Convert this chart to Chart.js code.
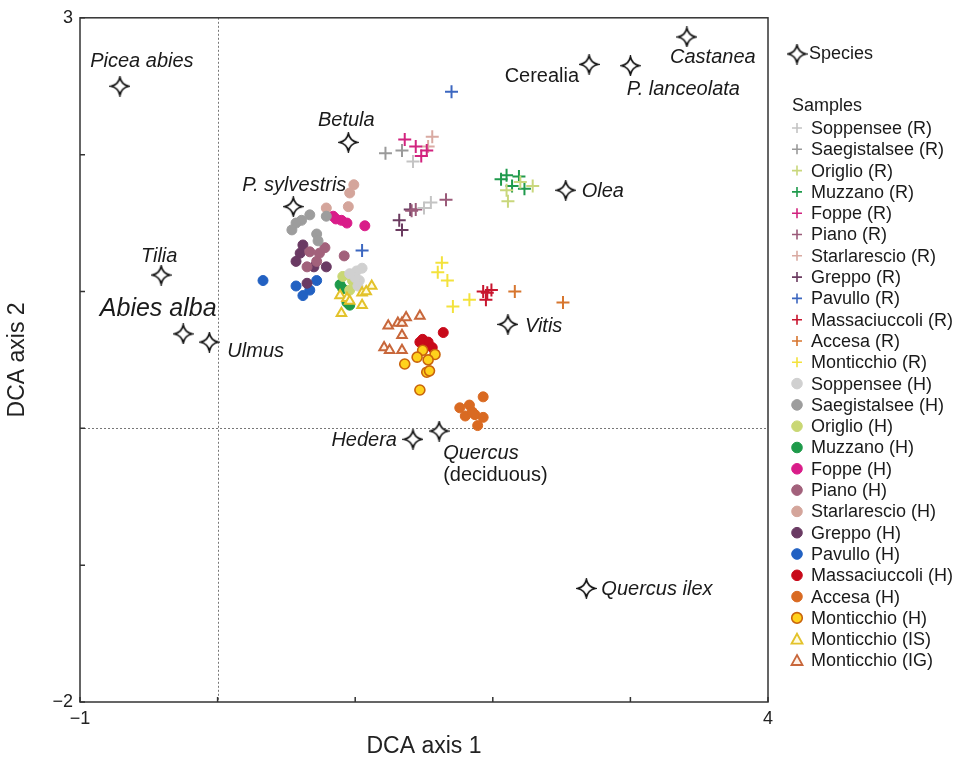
<!DOCTYPE html>
<html lang="en">
<head>
<meta charset="UTF-8">
<title>DCA ordination of pollen samples</title>
<script src="https://cdn.jsdelivr.net/npm/chart.js"></script>
<style>
  body { margin: 0; background: #fff; font-family: 'Liberation Sans', Arial, sans-serif; }
  #wrap { width: 958px; height: 760px; }
</style>
</head>
<body>
<div id="wrap"><canvas id="dca" width="958" height="760"></canvas></div>
<script>
// species scores (DCA axis 1 / axis 2)
const speciesNames = ['Picea abies', 'Castanea', 'Cerealia', 'P. lanceolata', 'Betula', 'Olea', 'P. sylvestris',
                      'Tilia', 'Abies alba', 'Ulmus', 'Vitis', 'Hedera', 'Quercus\n(deciduous)', 'Quercus ilex'];
const speciesX = [-0.71, 3.41, 2.70, 3.00, 0.95, 2.53, 0.55, -0.41, -0.25, -0.06, 2.11, 1.42, 1.61, 2.68];
const speciesY = [2.50, 2.86, 2.66, 2.65, 2.09, 1.74, 1.62, 1.12, 0.69, 0.63, 0.76, -0.08, -0.02, -1.17];

// sample groups, same order as the legend
const groupNames = [
  'Soppensee (R)', 'Saegistalsee (R)', 'Origlio (R)', 'Muzzano (R)', 'Foppe (R)', 'Piano (R)',
  'Starlarescio (R)', 'Greppo (R)', 'Pavullo (R)', 'Massaciuccoli (R)', 'Accesa (R)', 'Monticchio (R)',
  'Soppensee (H)', 'Saegistalsee (H)', 'Origlio (H)', 'Muzzano (H)', 'Foppe (H)', 'Piano (H)',
  'Starlarescio (H)', 'Greppo (H)', 'Pavullo (H)', 'Massaciuccoli (H)', 'Accesa (H)', 'Monticchio (H)',
  'Monticchio (IS)', 'Monticchio (IG)'
];
const groupX = [
  [1.50, 1.55, 1.42],
  [1.22, 1.34],
  [2.11, 2.29, 2.10, 2.20],
  [2.06, 2.19, 2.14, 2.23, 2.10],
  [1.36, 1.44, 1.48, 1.52],
  [1.66, 1.41, 1.44],
  [1.56, 1.53],
  [1.32, 1.34, 1.40],
  [1.70, 1.05],
  [1.93, 1.96, 1.95, 1.99],
  [2.16, 2.51],
  [1.63, 1.60, 1.67, 1.83, 1.71],
  [1.01, 1.05, 1.03, 1.00, 1.02, 0.96],
  [0.61, 0.67, 0.72, 0.73, 0.54, 0.57, 0.79],
  [0.91, 0.96, 0.98],
  [0.89, 0.91, 0.96, 0.94],
  [0.84, 0.90, 0.94, 1.07, 0.86],
  [0.67, 0.74, 0.72, 0.92, 0.65, 0.78],
  [0.99, 0.96, 0.95, 0.79],
  [0.60, 0.57, 0.62, 0.65, 0.79, 0.70],
  [0.33, 0.57, 0.67, 0.72, 0.62],
  [1.49, 1.53, 1.64, 1.56, 1.47],
  [1.93, 1.76, 1.83, 1.80, 1.87, 1.93, 1.89, 1.85],
  [1.49, 1.58, 1.45, 1.53, 1.36, 1.52, 1.54, 1.47],
  [0.89, 0.94, 1.05, 1.12, 1.08, 1.05, 0.90, 0.96],
  [1.24, 1.31, 1.34, 1.37, 1.47, 1.34, 1.21, 1.25, 1.34]
];
const groupY = [
  [1.61, 1.65, 1.95],
  [2.01, 2.03],
  [1.66, 1.77, 1.74, 1.80],
  [1.82, 1.84, 1.77, 1.75, 1.85],
  [2.11, 2.06, 1.99, 2.03],
  [1.67, 1.59, 1.60],
  [2.13, 2.06],
  [1.52, 1.45, 1.60],
  [2.46, 1.30],
  [1.00, 0.99, 0.94, 1.01],
  [1.00, 0.92],
  [1.21, 1.14, 1.08, 0.94, 0.89],
  [1.15, 1.17, 1.08, 1.10, 1.04, 1.13],
  [1.52, 1.56, 1.42, 1.37, 1.45, 1.50, 1.55],
  [1.11, 1.01, 1.08],
  [1.05, 1.02, 0.90, 0.92],
  [1.55, 1.52, 1.50, 1.48, 1.53],
  [1.29, 1.28, 1.22, 1.26, 1.18, 1.32],
  [1.78, 1.72, 1.62, 1.61],
  [1.28, 1.22, 1.34, 1.06, 1.18, 1.18],
  [1.08, 1.04, 1.01, 1.08, 0.97],
  [0.65, 0.63, 0.70, 0.59, 0.63],
  [0.23, 0.15, 0.17, 0.09, 0.10, 0.08, 0.02, 0.12],
  [0.57, 0.54, 0.52, 0.50, 0.47, 0.41, 0.42, 0.28],
  [0.97, 0.95, 0.99, 1.04, 1.00, 0.90, 0.84, 0.93],
  [0.75, 0.77, 0.77, 0.81, 0.82, 0.68, 0.59, 0.57, 0.57]
];
const xTickLabels = [-1, 4];
const yTickLabels = [-2, 3];

// marker look for each group (shape, stroke, fill)
const groupStyle = [
  ['cross', '#c4c4c4'], ['cross', '#9a9a9a'], ['cross', '#c9d77c'], ['cross', '#1f9a4c'],
  ['cross', '#d2237f'], ['cross', '#9b5b7a'], ['cross', '#d9aaa2'], ['cross', '#6b3b60'],
  ['cross', '#3c67c0'], ['cross', '#c8152e'], ['cross', '#d7762f'], ['cross', '#f3e23c'],
  ['circle', '#d0d0d0'], ['circle', '#9d9d9d'], ['circle', '#c9d774'], ['circle', '#1e9a4a'],
  ['circle', '#d91c89'], ['circle', '#a2617b'], ['circle', '#d4a59b'], ['circle', '#6a3a63'],
  ['circle', '#2261c2'], ['circle', '#c80a1a'], ['circle', '#d96a22'], ['circle', '#c9640c', '#ffd21c'],
  ['triangle', '#e3c22a', '#fffbe0'], ['triangle', '#c8673b', '#fff3ea']
];

// where each species name sits relative to its star
const speciesLabelPos = [
  [22, -25, 'center'], [26, 20, 'center'], [-10, 12, 'right', 'upright'], [53, 24, 'center'],
  [-2, -22, 'center'], [16, 1, 'left'], [1, -21, 'center'], [-2, -19, 'center'],
  [-25, -25, 'center', 'big'], [18, 9, 'left'], [17, 2, 'left'], [-16, 1, 'right'],
  [4, 22, 'left'], [15, 1, 'left']
];

function makeStar(s) {
  const c = document.createElement('canvas');
  c.width = c.height = s;
  const g = c.getContext('2d');
  const m = s / 2, r = s / 2 - 1.5, k = r * 0.16;
  g.beginPath();
  g.moveTo(m, m - r);
  g.quadraticCurveTo(m + k, m - k, m + r, m);
  g.quadraticCurveTo(m + k, m + k, m, m + r);
  g.quadraticCurveTo(m - k, m + k, m - r, m);
  g.quadraticCurveTo(m - k, m - k, m, m - r);
  g.closePath();
  g.fillStyle = '#fff';
  g.fill();
  g.lineWidth = 1.6;
  g.strokeStyle = '#111';
  g.stroke();
  return c;
}
const star = makeStar(21);

const minus = v => (v < 0 ? '\u2212' + Math.abs(v) : String(v));
const FONT = "'Liberation Sans', Arial, sans-serif";

const datasets = [{
  label: 'Species',
  data: speciesX.map((x, i) => ({ x, y: speciesY[i] })),
  pointStyle: star,
  order: 0
}];
groupNames.forEach((name, i) => {
  const [shape, stroke, fill] = groupStyle[i];
  datasets.push({
    label: name,
    data: groupX[i].map((x, j) => ({ x, y: groupY[i][j] })),
    pointStyle: shape,
    pointRadius: shape === 'cross' ? 6.5 : (shape === 'triangle' ? 5.5 : 5),
    borderColor: stroke,
    backgroundColor: fill || stroke,
    borderWidth: shape === 'circle' ? (fill ? 1.6 : 1) : 2,
    order: shape === 'triangle' ? 1 : (fill ? 2 : (shape === 'circle' ? 3 : 4))
  });
});

const decor = {
  id: 'decor',
  beforeDatasetsDraw(chart) {
    const { ctx, chartArea: a, scales: { x, y } } = chart;
    ctx.save();
    ctx.strokeStyle = '#777';
    ctx.lineWidth = 1;
    ctx.setLineDash([2, 2]);
    const x0 = Math.round(x.getPixelForValue(0)) + 0.5, y0 = Math.round(y.getPixelForValue(0)) + 0.5;
    ctx.beginPath();
    ctx.moveTo(x0, a.top); ctx.lineTo(x0, a.bottom);
    ctx.moveTo(a.left, y0); ctx.lineTo(a.right, y0);
    ctx.stroke();
    ctx.setLineDash([]);
    ctx.strokeStyle = '#333';
    ctx.lineWidth = 1.5;
    ctx.strokeRect(a.left, a.top, a.right - a.left, a.bottom - a.top);
    ctx.beginPath();
    x.ticks.forEach(t => {
      const px = x.getPixelForValue(t.value);
      ctx.moveTo(px, a.bottom); ctx.lineTo(px, a.bottom - 5);
    });
    y.ticks.forEach(t => {
      const py = y.getPixelForValue(t.value);
      ctx.moveTo(a.left, py); ctx.lineTo(a.left + 5, py);
    });
    ctx.stroke();
    ctx.restore();
  },
  afterDatasetsDraw(chart) {
    const { ctx, chartArea: a, scales: { x, y } } = chart;
    ctx.save();
    ctx.fillStyle = '#1a1a1a';
    ctx.textBaseline = 'middle';
    // species names
    speciesNames.forEach((name, i) => {
      const [dx, dy, align, kind] = speciesLabelPos[i];
      const px = x.getPixelForValue(speciesX[i]) + dx;
      const py = y.getPixelForValue(speciesY[i]) + dy;
      ctx.textAlign = align;
      name.split('\n').forEach((line, k) => {
        const upright = kind === 'upright' || line.startsWith('(');
        const size = kind === 'big' ? 25 : 20;
        ctx.font = (upright ? '' : 'italic ') + size + 'px ' + FONT;
        ctx.fillText(line, px, py + k * 22);
      });
    });
    // legend on the right
    const lx = a.right + 29;
    ctx.textAlign = 'left';
    ctx.font = '18px ' + FONT;
    ctx.drawImage(star, lx - star.width / 2, 54 - star.height / 2);
    ctx.fillText('Species', lx + 12, 54);
    ctx.fillText('Samples', lx - 5, 106);
    groupNames.forEach((name, i) => {
      const [shape, stroke, fill] = groupStyle[i];
      const cy = 128 + i * 21.3;
      ctx.strokeStyle = stroke;
      ctx.fillStyle = fill || stroke;
      ctx.beginPath();
      if (shape === 'cross') {
        ctx.lineWidth = 1.6;
        ctx.moveTo(lx - 5, cy); ctx.lineTo(lx + 5, cy);
        ctx.moveTo(lx, cy - 5); ctx.lineTo(lx, cy + 5);
        ctx.stroke();
      } else if (shape === 'circle') {
        ctx.lineWidth = fill ? 1.6 : 1;
        ctx.arc(lx, cy, 5.3, 0, Math.PI * 2);
        ctx.fill(); ctx.stroke();
      } else {
        ctx.lineWidth = 1.8;
        ctx.moveTo(lx, cy - 5.5); ctx.lineTo(lx + 5.5, cy + 4.5); ctx.lineTo(lx - 5.5, cy + 4.5);
        ctx.closePath();
        ctx.fill(); ctx.stroke();
      }
      ctx.fillStyle = '#1a1a1a';
      ctx.fillText(name, lx + 14, cy + 1);
    });
    ctx.restore();
  }
};

new Chart(document.getElementById('dca'), {
  type: 'scatter',
  data: { datasets },
  options: {
    responsive: false,
    animation: false,
    events: [],
    layout: { padding: { left: 0, top: 14, right: 190, bottom: 0 } },
    plugins: { legend: { display: false }, tooltip: { enabled: false } },
    scales: {
      x: {
        min: -1, max: 4,
        afterFit: s => { s.height = 58; },
        grid: { display: false, drawTicks: false },
        border: { display: false },
        ticks: {
          stepSize: 1, padding: 6, color: '#222', maxRotation: 0,
          font: { size: 18, family: FONT },
          callback: v => (xTickLabels.includes(v) ? minus(v) : '')
        },
        title: { display: true, text: 'DCA axis 1', color: '#222', padding: { top: 0, bottom: 0 },
                 font: { size: 23, family: FONT } }
      },
      y: {
        min: -2, max: 3,
        afterFit: s => { s.width = 80; },
        grid: { display: false, drawTicks: false },
        border: { display: false },
        ticks: {
          stepSize: 1, padding: 7, color: '#222',
          font: { size: 18, family: FONT },
          callback: v => (yTickLabels.includes(v) ? minus(v) : '')
        },
        title: { display: true, text: 'DCA axis 2', color: '#222', font: { size: 23, family: FONT } }
      }
    }
  },
  plugins: [decor]
});
</script>
</body>
</html>
